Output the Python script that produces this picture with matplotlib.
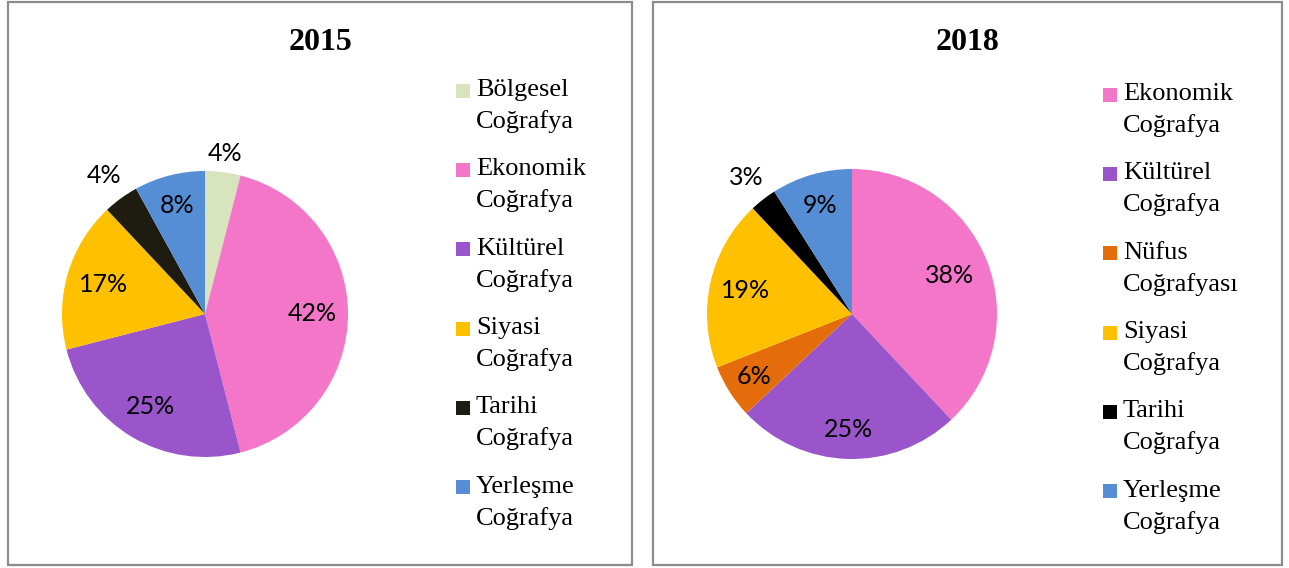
import matplotlib
matplotlib.use("Agg")
import matplotlib.pyplot as plt
from matplotlib.patches import Rectangle
from matplotlib.legend_handler import HandlerPatch
import numpy as np

W, H = 1289, 568

# 2015 data
cats_2015 = ["Bölgesel Coğrafya", "Ekonomik Coğrafya", "Kültürel Coğrafya",
             "Siyasi Coğrafya", "Tarihi Coğrafya", "Yerleşme Coğrafya"]
vals_2015 = [4, 42, 25, 17, 4, 8]
colors_2015 = ["#D7E4BD", "#F476C9", "#9A55CA", "#FFC000", "#1E1B10", "#558ED5"]

# 2018 data
cats_2018 = ["Ekonomik Coğrafya", "Kültürel Coğrafya", "Nüfus Coğrafyası",
             "Siyasi Coğrafya", "Tarihi Coğrafya", "Yerleşme Coğrafya"]
vals_2018 = [38, 25, 6, 19, 3, 9]
colors_2018 = ["#F476C9", "#9A55CA", "#E46C0A", "#FFC000", "#000000", "#558ED5"]

fig = plt.figure(figsize=(W / 100, H / 100), dpi=100)


def px_rect(x0, y0, x1, y1):
    # pixel box (top-left origin) -> figure fraction
    return [x0 / W, 1 - y1 / H, (x1 - x0) / W, (y1 - y0) / H]


def square_patch(legend, orig_handle, xdescent, ydescent, width, height, fontsize):
    return Rectangle((-xdescent, -ydescent), width, width)


def draw_panel(box, title, cats, vals, colors, center, radius, label_dist, leg_xy):
    x0, y0, x1, y1 = box
    fig.add_artist(Rectangle((x0 / W, 1 - y1 / H), (x1 - x0) / W, (y1 - y0) / H,
                             transform=fig.transFigure, fill=False,
                             edgecolor="#8C8C8C", linewidth=1.6))
    fig.text((x0 + x1) / 2 / W, 1 - 50 / H, title, ha="center", va="baseline",
             fontsize=23, fontweight="bold", family="Liberation Serif")

    cx, cy = center
    half = radius * 1.25
    ax = fig.add_axes(px_rect(cx - half, cy - half, cx + half, cy + half))
    wedges, _, autotexts = ax.pie(vals, colors=colors, startangle=90,
                                  counterclock=False, autopct="%d%%",
                                  pctdistance=0.75,
                                  wedgeprops=dict(linewidth=0),
                                  textprops=dict(fontsize=18, family="Lato",
                                                 color="black"))
    for w, t, d in zip(wedges, autotexts, label_dist):
        ang = np.deg2rad((w.theta1 + w.theta2) / 2)
        t.set_position((d * np.cos(ang), d * np.sin(ang)))
        t.set_clip_on(False)
    ax.set_aspect("equal")

    labels = [c.replace(" ", "\n") for c in cats]
    leg = fig.legend(wedges, labels, loc="upper left",
                     bbox_to_anchor=(leg_xy[0] / W, 1 - leg_xy[1] / H),
                     frameon=False, borderpad=0, borderaxespad=0,
                     prop=dict(family="Liberation Serif", size=19),
                     handlelength=0.53, handleheight=0.72, handletextpad=0.23,
                     labelspacing=0.96,
                     handler_map={matplotlib.patches.Wedge:
                                  HandlerPatch(patch_func=square_patch)})
    for t in leg.get_texts():
        t.set_linespacing(1.5)
    for col in leg._legend_handle_box.get_children():
        for row in col.get_children():
            row.align = "top"


draw_panel((8, 2, 632, 565), "2015", cats_2015, vals_2015, colors_2015,
           (205, 314), 143, [1.13, 0.75, 0.75, 0.74, 1.2, 0.78], (456, 79))
draw_panel((653, 2, 1282, 565), "2018", cats_2018, vals_2018, colors_2018,
           (852, 314), 145, [0.72, 0.8, 0.8, 0.75, 1.19, 0.78], (1103, 83))

fig.savefig("out.png", dpi=100)
